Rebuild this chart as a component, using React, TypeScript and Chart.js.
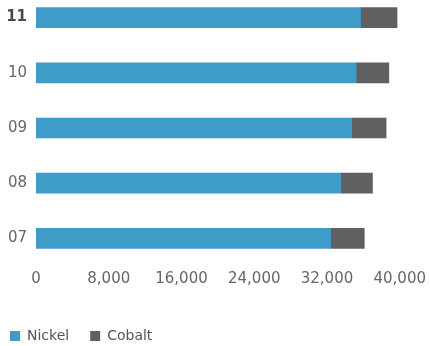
import React, { useEffect, useRef } from "react";
import { Chart, registerables } from "chart.js";

Chart.register(...registerables);

const categories = ["11", "10", "09", "08", "07"];
const nickel = [35700, 35200, 34700, 33500, 32400];
const cobalt = [4000, 3600, 3800, 3500, 3700];
const xTicks = [0, 8000, 16000, 24000, 32000, 40000];

const FONT = "'DejaVu Sans', sans-serif";

export default function App() {
  const ref = useRef<HTMLCanvasElement | null>(null);

  useEffect(() => {
    const canvas = ref.current;
    if (!canvas) return;
    const chart = new Chart(canvas, {
      type: "bar",
      data: {
        labels: categories,
        datasets: [
          {
            label: "Nickel",
            data: nickel,
            backgroundColor: "#3f9bc8",
            borderWidth: 0,
            barThickness: 20,
          },
          {
            label: "Cobalt",
            data: cobalt,
            backgroundColor: "#5f6062",
            borderWidth: 0,
            barThickness: 20,
          },
        ],
      },
      options: {
        indexAxis: "y",
        animation: false,
        responsive: false,
        maintainAspectRatio: false,
        layout: { autoPadding: false, padding: { left: 0, top: 0, bottom: 0, right: 28 } },
        plugins: {
          tooltip: { enabled: false },
          legend: {
            position: "bottom",
            align: "start",
            labels: {
              boxWidth: 10,
              boxHeight: 10,
              padding: 21,
              color: "#555555",
              font: { family: FONT, size: 14 },
            },
          },
        },
        scales: {
          x: {
            stacked: true,
            min: 0,
            max: 40000,
            afterBuildTicks: (scale: any) => {
              scale.ticks = xTicks.map((v) => ({ value: v }));
            },
            afterFit: (scale: any) => {
              scale.height = 42;
            },
            grid: { display: false, drawTicks: false },
            border: { display: false },
            ticks: {
              padding: 4,
              color: "#666666",
              font: { family: FONT, size: 15 },
              maxRotation: 0,
              callback: (v: any) => Number(v).toLocaleString("en-US"),
            },
          },
          y: {
            stacked: true,
            afterFit: (scale: any) => {
              scale.width = 47;
            },
            grid: { display: false, drawTicks: false },
            border: { display: false },
            ticks: {
              padding: 9,
              color: (c: any) => (c.index === 0 ? "#4a4a4a" : "#666666"),
              font: (c: any) => ({
                family: FONT,
                size: 15,
                weight: c.index === 0 ? "bold" : "normal",
              }),
            },
          },
        },
      },
    });
    return () => chart.destroy();
  }, []);

  return (
    <div
      style={{
        position: "fixed",
        left: 0,
        top: 0,
        width: 430,
        height: 346,
        overflow: "hidden",
        background: "#ffffff",
      }}
    >
      <canvas
        ref={ref}
        width={441}
        height={381}
        style={{ position: "absolute", left: -11, top: -28, width: 441, height: 381 }}
      />
    </div>
  );
}
